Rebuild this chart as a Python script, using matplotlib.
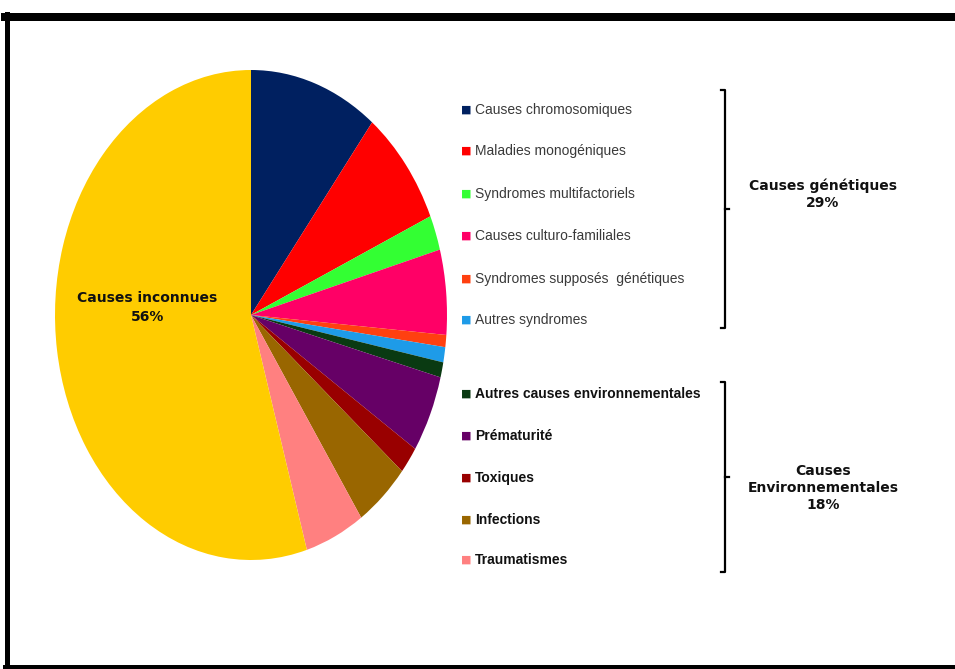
import matplotlib.pyplot as plt
from matplotlib.lines import Line2D

# slice order clockwise from 12 o'clock
labels_gen = ['Causes chromosomiques', 'Maladies monogéniques', 'Syndromes multifactoriels',
              'Causes culturo-familiales', 'Syndromes supposés  génétiques', 'Autres syndromes']
values_gen = [10.6, 7.8, 2.3, 5.6, 0.8, 1.0]
colors_gen = ['#002060', '#FF0000', '#33FF33', '#FF0066', '#FF4010', '#1E9BE8']

labels_env = ['Autres causes environnementales', 'Prématurité', 'Toxiques', 'Infections', 'Traumatismes']
values_env = [1.0, 5.1, 1.8, 4.5, 4.9]
colors_env = ['#0A3A12', '#660066', '#990000', '#996600', '#FF8080']

label_unknown = 'Causes inconnues\n56%'
value_unknown = 54.6
color_unknown = '#FFCC00'

group_labels = ['Causes génétiques\n29%', 'Causes\nEnvironnementales\n18%']

W, H = 955, 669
fig = plt.figure(figsize=(W / 100, H / 100), dpi=100)
fig.patch.set_facecolor('white')


def fx(px):
    return px / W


def fy(py):
    return 1 - py / H


# pie drawn as an ellipse: stretch the axes, no equal aspect
ax = fig.add_axes([fx(55), fy(560), fx(392), (490 / H)])
values = values_gen + values_env + [value_unknown]
colors = colors_gen + colors_env + [color_unknown]
ax.pie(values, colors=colors, startangle=90, counterclock=False,
       wedgeprops=dict(linewidth=0))
ax.set_aspect('auto')
ax.set_xlim(-1, 1)
ax.set_ylim(-1, 1)
ax.text(-0.53, 0.03, label_unknown, ha='center', va='center', fontsize=10,
        fontweight='bold', color='#111111', linespacing=1.5)

# legend rows
legend_font = ['Liberation Sans', 'DejaVu Sans']
rows_gen = [110, 151, 194, 236, 279, 320]
rows_env = [394, 436, 478, 520, 560]
for y, lab, c in zip(rows_gen, labels_gen, colors_gen):
    fig.text(fx(461), fy(y), '■', color=c, fontsize=8, va='center', ha='left',
             family=['DejaVu Sans'])
    fig.text(fx(475), fy(y), lab, color='#3a3a3a', fontsize=10, va='center', ha='left',
             family=legend_font)
for y, lab, c in zip(rows_env, labels_env, colors_env):
    fig.text(fx(461), fy(y), '■', color=c, fontsize=8, va='center', ha='left',
             family=['DejaVu Sans'])
    fig.text(fx(475), fy(y), lab, color='#111111', fontsize=10, va='center', ha='left',
             family=legend_font, fontweight='bold')


def bracket(top, bottom, bx=725):
    mid = (top + bottom) / 2
    xs = [fx(bx - 4), fx(bx), fx(bx), fx(bx - 4)]
    ys = [fy(top), fy(top), fy(bottom), fy(bottom)]
    fig.add_artist(Line2D(xs, ys, color='black', lw=1.6, transform=fig.transFigure))
    fig.add_artist(Line2D([fx(bx), fx(bx + 4)], [fy(mid), fy(mid)], color='black', lw=1.6,
                          transform=fig.transFigure))


bracket(90, 328)
bracket(382, 572)

fig.text(fx(823), fy(194), group_labels[0], ha='center', va='center', fontsize=10,
         fontweight='bold', color='#111111', linespacing=1.3)
fig.text(fx(823), fy(488), group_labels[1], ha='center', va='center', fontsize=10,
         fontweight='bold', color='#111111', linespacing=1.3)

# black frame around the picture
fig.add_artist(Line2D([fx(5), 1.0], [fy(17), fy(17)], color='black', lw=8 * 0.72,
                      transform=fig.transFigure))
fig.add_artist(Line2D([fx(7), fx(7)], [fy(14), fy(669)], color='black', lw=5 * 0.72,
                      transform=fig.transFigure))
fig.add_artist(Line2D([fx(5), 1.0], [fy(667), fy(667)], color='black', lw=4 * 0.72,
                      transform=fig.transFigure))

fig.savefig('out.png', dpi=100)
